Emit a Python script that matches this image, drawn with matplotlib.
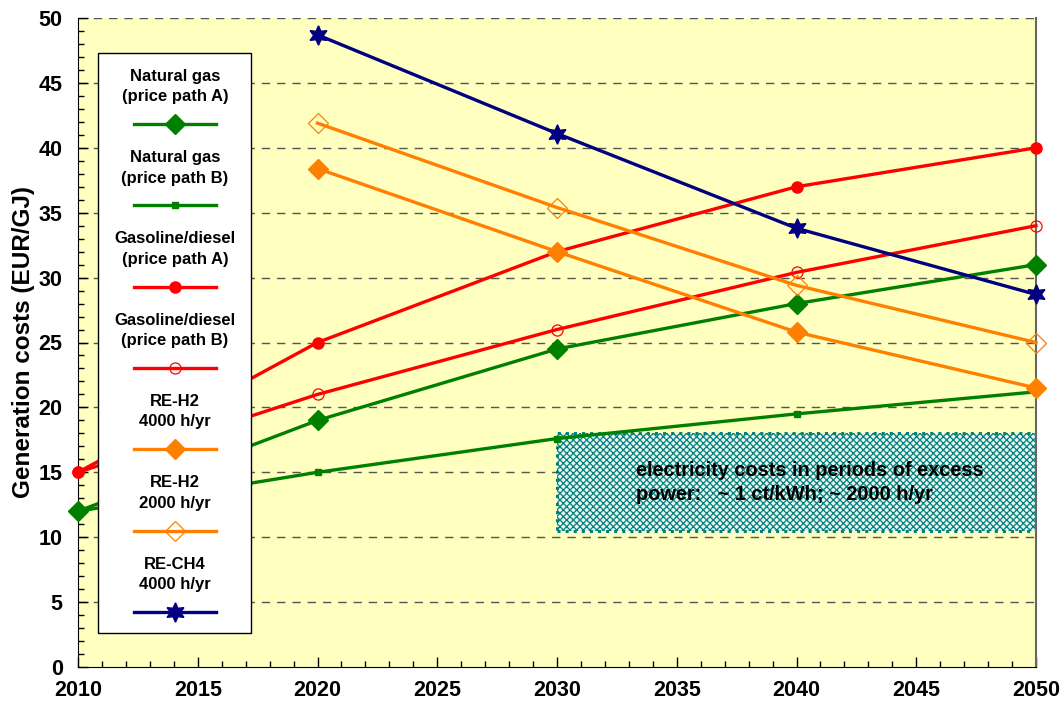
import matplotlib
matplotlib.use("Agg")
import matplotlib.pyplot as plt
from matplotlib.patches import Rectangle
from matplotlib.lines import Line2D
from matplotlib.ticker import MultipleLocator

plt.rcParams['font.family'] = ['Liberation Sans', 'DejaVu Sans']
plt.rcParams['font.weight'] = 'bold'
plt.rcParams['hatch.linewidth'] = 0.9

years_ng = [2010, 2020, 2030, 2040, 2050]
years_re = [2020, 2030, 2040, 2050]

ng_a = [12, 19, 24.5, 28, 31]
ng_b = [12, 15, 17.6, 19.5, 21.2]
gas_a = [15, 25, 32, 37, 40]
gas_b = [15, 21, 26, 30.4, 34]
h2_4000 = [38.4, 32, 25.8, 21.5]
h2_2000 = [41.9, 35.4, 29.4, 25]
ch4_4000 = [48.7, 41.1, 33.8, 28.7]

labels = ["Natural gas\n(price path A)", "Natural gas\n(price path B)",
          "Gasoline/diesel\n(price path A)", "Gasoline/diesel\n(price path B)",
          "RE-H2\n4000 h/yr", "RE-H2\n2000 h/yr", "RE-CH4\n4000 h/yr"]

box_x = [2030, 2050]
box_y = [10.5, 18]
box_text = "electricity costs in periods of excess\npower:   ~ 1 ct/kWh; ~ 2000 h/yr"

GREEN = '#008000'
RED = '#FF0000'
ORANGE = '#FF8000'
NAVY = '#000080'

styles = [
    dict(color=GREEN, marker='D', ms=10, mfc=GREEN, mec=GREEN),
    dict(color=GREEN, marker='s', ms=4, mfc=GREEN, mec=GREEN),
    dict(color=RED, marker='o', ms=8, mfc=RED, mec=RED),
    dict(color=RED, marker='o', ms=8, mfc='none', mec=RED, mew=0.9),
    dict(color=ORANGE, marker='D', ms=10, mfc=ORANGE, mec=ORANGE),
    dict(color=ORANGE, marker='D', ms=10, mfc='none', mec=ORANGE, mew=0.9),
    dict(color=NAVY, marker=(6, 1, 0), ms=14, mfc=NAVY, mec=NAVY),
]
series = [(years_ng, ng_a), (years_ng, ng_b), (years_ng, gas_a), (years_ng, gas_b),
          (years_re, h2_4000), (years_re, h2_2000), (years_re, ch4_4000)]

fig = plt.figure(figsize=(10.62, 7.02), dpi=100)
ax = fig.add_axes([78/1062, 1-667/702, 958/1062, 649/702])
ax.set_facecolor('#FFFFC0')
ax.set_xlim(2010, 2050)
ax.set_ylim(0, 50)

ax.yaxis.set_major_locator(MultipleLocator(5))
ax.yaxis.set_minor_locator(MultipleLocator(1))
ax.xaxis.set_major_locator(MultipleLocator(5))
ax.xaxis.set_minor_locator(MultipleLocator(1))
ax.tick_params(axis='both', which='major', direction='in', length=7, width=1, labelsize=15.5, colors='black')
ax.tick_params(axis='both', which='minor', direction='in', length=4, width=1)
ax.tick_params(axis='x', pad=9)
ax.tick_params(axis='y', pad=11)
for lab in ax.get_xticklabels() + ax.get_yticklabels():
    lab.set_fontweight('bold')

for y in range(5, 51, 5):
    ax.axhline(y, color='#555555', lw=1, ls=(0, (6, 5)), zorder=1)

ax.spines['top'].set_visible(False)
ax.spines['right'].set_color('#666666')
ax.spines['right'].set_linewidth(1.5)
ax.spines['left'].set_color('black')
ax.spines['bottom'].set_color('black')

# hatched box
ax.add_patch(Rectangle((box_x[0], box_y[0]), box_x[1]-box_x[0], box_y[1]-box_y[0],
                       facecolor='#E8F4EC', edgecolor='#008080', hatch='xxxxx', lw=0, zorder=2))
ax.add_patch(Rectangle((box_x[0], box_y[0]), box_x[1]-box_x[0], box_y[1]-box_y[0],
                       facecolor='none', edgecolor='#008080', lw=2.2, ls=':', zorder=2))
ax.text(2033.3, 14.2, box_text, fontsize=14.4, fontweight='bold', va='center', ha='left',
        linespacing=1.35, zorder=3)

for (xs, ys), st in zip(series, styles):
    ax.plot(xs, ys, lw=2.4, clip_on=False, zorder=4, **st)

ax.set_ylabel("Generation costs (EUR/GJ)", fontsize=17.5, fontweight='bold', labelpad=3)

# manual legend
def px(x, y):
    return (x - 78) / 958, (667 - y) / 649

lx0, ly0 = px(98, 633)
lx1, ly1 = px(251, 53)
ax.add_patch(Rectangle((lx0, ly0), lx1-lx0, ly1-ly0, transform=ax.transAxes,
                       facecolor='white', edgecolor='black', lw=1, zorder=5))
for i, (lab, st) in enumerate(zip(labels, styles)):
    yline = 124 + i * 81.3
    tx, ty = px(175, yline - 37.5)
    ax.text(tx, ty, lab, transform=ax.transAxes, ha='center', va='center',
            fontsize=12, fontweight='bold', linespacing=1.45, zorder=6)
    a, yl = px(134, yline)
    b, _ = px(216, yline)
    ax.add_line(Line2D([a, (a+b)/2, b], [yl, yl, yl], transform=ax.transAxes,
                       lw=2.4, markevery=[1], zorder=6, **st))

fig.savefig('out.png', dpi=100)
